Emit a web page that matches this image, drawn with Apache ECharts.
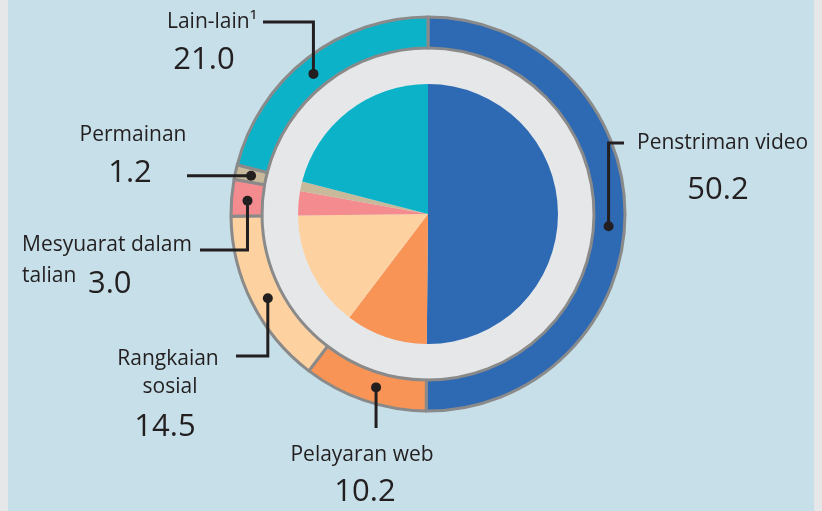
<!DOCTYPE html>
<html>
<head>
<meta charset="utf-8">
<script src="https://cdn.jsdelivr.net/npm/echarts@6/dist/echarts.min.js"></script>
<style>
  html, body { margin: 0; padding: 0; background: #e6e7e9; }
  #chart { width: 822px; height: 511px; }
</style>
</head>
<body>
<div id="chart"></div>
<script>
const categories = ["Penstriman video", "Pelayaran web", "Rangkaian sosial", "Mesyuarat dalam talian", "Permainan", "Lain-lain"];
const values = [50.2, 10.2, 14.5, 3.0, 1.2, 21.0];
const valueLabels = ["50.2", "10.2", "14.5", "3.0", "1.2", "21.0"];
const colors = ["#2d6ab3", "#f79456", "#fdd2a0", "#f48b8f", "#c9b99b", "#0cb2c8"];

const cx = 428, cy = 214;
const ink = "#231f20";
const labelFont = '21px "Open Sans"';
const valueFont = '31px "Open Sans"';

// text lines per slice: [text, x, y, align, font]
const labelText = [
  [["Penstriman video", 637, 143, "left", labelFont], [valueLabels[0], 718, 190, "center", valueFont]],
  [["Pelayaran web", 362, 455, "center", labelFont], [valueLabels[1], 365, 492, "center", valueFont]],
  [["Rangkaian", 168, 359, "center", labelFont], ["sosial", 170, 387, "center", labelFont], [valueLabels[2], 165, 427, "center", valueFont]],
  [["Mesyuarat dalam", 22, 245, "left", labelFont], ["talian", 22, 276, "left", labelFont], [valueLabels[3], 88, 284, "left", valueFont]],
  [["Permainan", 133, 135, "center", labelFont], [valueLabels[4], 130, 173, "center", valueFont]],
  [["Lain-lain\u00b9", 212, 22, "center", labelFont], [valueLabels[5], 204, 60, "center", valueFont]]
];
// leader: position within slice, elbow y, end x (null = same as dot)
const leaders = [
  [0.52, 143, 624],
  [0.44, 428, null],
  [0.48, 356, 236],
  [0.45, 250, 200],
  [0.47, null, 187],
  [0.48, 22, 263]
];

const total = values.reduce((a, b) => a + b, 0);
const graphics = [
  { type: "rect", shape: { x: 8, y: 0, width: 806, height: 511 }, style: { fill: "#c6dfe8" }, z: -10 }
];

let cum = 0;
values.forEach((v, i) => {
  const [t, ey, ex] = leaders[i];
  const th = (cum + v * t) / total * Math.PI * 2;
  cum += v;
  const r = 181;
  const dx = cx + r * Math.sin(th), dy = cy - r * Math.cos(th);
  const elbowY = ey === null ? dy : ey;
  const endX = ex === null ? dx : ex;
  graphics.push({
    type: "polyline", z: 100,
    shape: { points: [[dx, dy], [dx, elbowY], [endX, elbowY]] },
    style: { stroke: ink, lineWidth: 3, fill: null }
  });
  graphics.push({
    type: "circle", z: 101,
    shape: { cx: dx, cy: dy, r: 5 },
    style: { fill: ink }
  });
  labelText[i].forEach(([txt, x, y, align, font]) => {
    graphics.push({
      type: "text", z: 100,
      style: { text: txt, x: x, y: y, font: font, fill: ink, textAlign: align, textVerticalAlign: "middle" }
    });
  });
});

const data = categories.map((c, i) => ({ name: c, value: values[i], itemStyle: { color: colors[i] } }));

const chart = echarts.init(document.getElementById("chart"));
chart.setOption({
  backgroundColor: "#e6e7e9",
  animation: false,
  graphic: graphics,
  series: [
    {
      type: "pie",
      center: [cx, cy],
      radius: [0, 166],
      silent: true,
      label: { show: false },
      data: [{ value: 1, itemStyle: { color: "#e6e7e9" } }]
    },
    {
      type: "pie",
      center: [cx, cy],
      radius: [0, 130],
      startAngle: 90,
      silent: true,
      label: { show: false },
      labelLine: { show: false },
      itemStyle: { borderWidth: 0 },
      data: data
    },
    {
      type: "pie",
      center: [cx, cy],
      radius: [166, 197],
      startAngle: 90,
      silent: true,
      label: { show: false },
      labelLine: { show: false },
      itemStyle: { borderColor: "#8a8a8a", borderWidth: 3 },
      data: data
    }
  ]
});
</script>
</body>
</html>
